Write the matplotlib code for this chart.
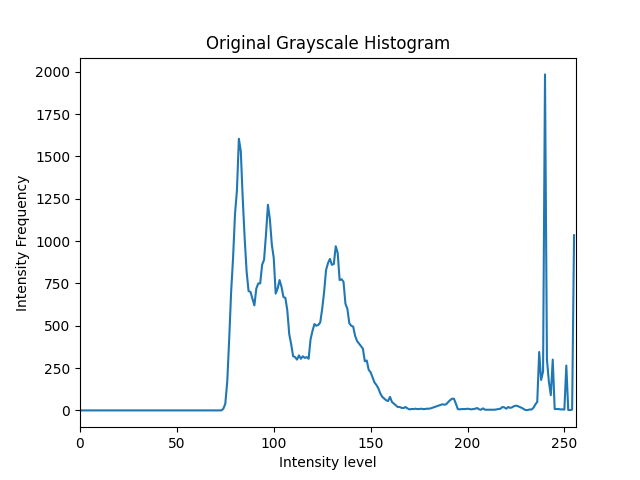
import matplotlib
matplotlib.use("Agg")
import matplotlib.pyplot as plt
import numpy as np

# pixel counts per grey level 0..255
hist_counts = [
    0, 0, 0, 0, 0, 0, 0, 0, 0, 0, 0, 0, 0, 0, 0, 0,
    0, 0, 0, 0, 0, 0, 0, 0, 0, 0, 0, 0, 0, 0, 0, 0,
    0, 0, 0, 0, 0, 0, 0, 0, 0, 0, 0, 0, 0, 0, 0, 0,
    0, 0, 0, 0, 0, 0, 0, 0, 0, 0, 0, 0, 0, 0, 0, 0,
    0, 0, 0, 0, 0, 0, 0, 0, 0, 0, 10, 40, 170, 420, 700, 900,
    1160, 1300, 1605, 1530, 1250, 1015, 820, 705, 700, 660, 620, 720, 750, 750, 860, 890,
    1040, 1215, 1130, 980, 900, 690, 720, 770, 730, 670, 665, 590, 450, 390, 320, 315,
    300, 325, 305, 320, 310, 315, 305, 420, 470, 510, 500, 505, 520, 600, 700, 830,
    870, 895, 860, 865, 970, 930, 770, 775, 760, 630, 600, 515, 500, 495, 440, 410,
    395, 380, 365, 290, 295, 240, 225, 195, 165, 150, 130, 100, 80, 70, 60, 55,
    80, 50, 40, 30, 20, 20, 15, 14, 20, 12, 6, 8, 8, 10, 8, 8,
    10, 8, 8, 10, 10, 12, 16, 20, 24, 28, 32, 36, 34, 36, 49, 60,
    69, 69, 40, 8, 6, 8, 8, 8, 10, 8, 6, 8, 10, 14, 6, 4,
    12, 4, 4, 4, 4, 4, 4, 6, 8, 10, 20, 18, 10, 20, 15, 18,
    25, 28, 25, 20, 15, 8, 2, 2, 5, 5, 15, 35, 50, 345, 180, 230,
    1985, 300, 170, 90, 300, 8, 8, 8, 6, 6, 5, 265, 2, 2, 5, 1035,
]
levels = np.arange(len(hist_counts))

plt.figure(figsize=(6.4, 4.8), dpi=100)
plt.plot(levels, hist_counts)
plt.xlim([0, 256])
plt.title("Original Grayscale Histogram")
plt.xlabel("Intensity level")
plt.ylabel("Intensity Frequency")
plt.savefig("out.png")
